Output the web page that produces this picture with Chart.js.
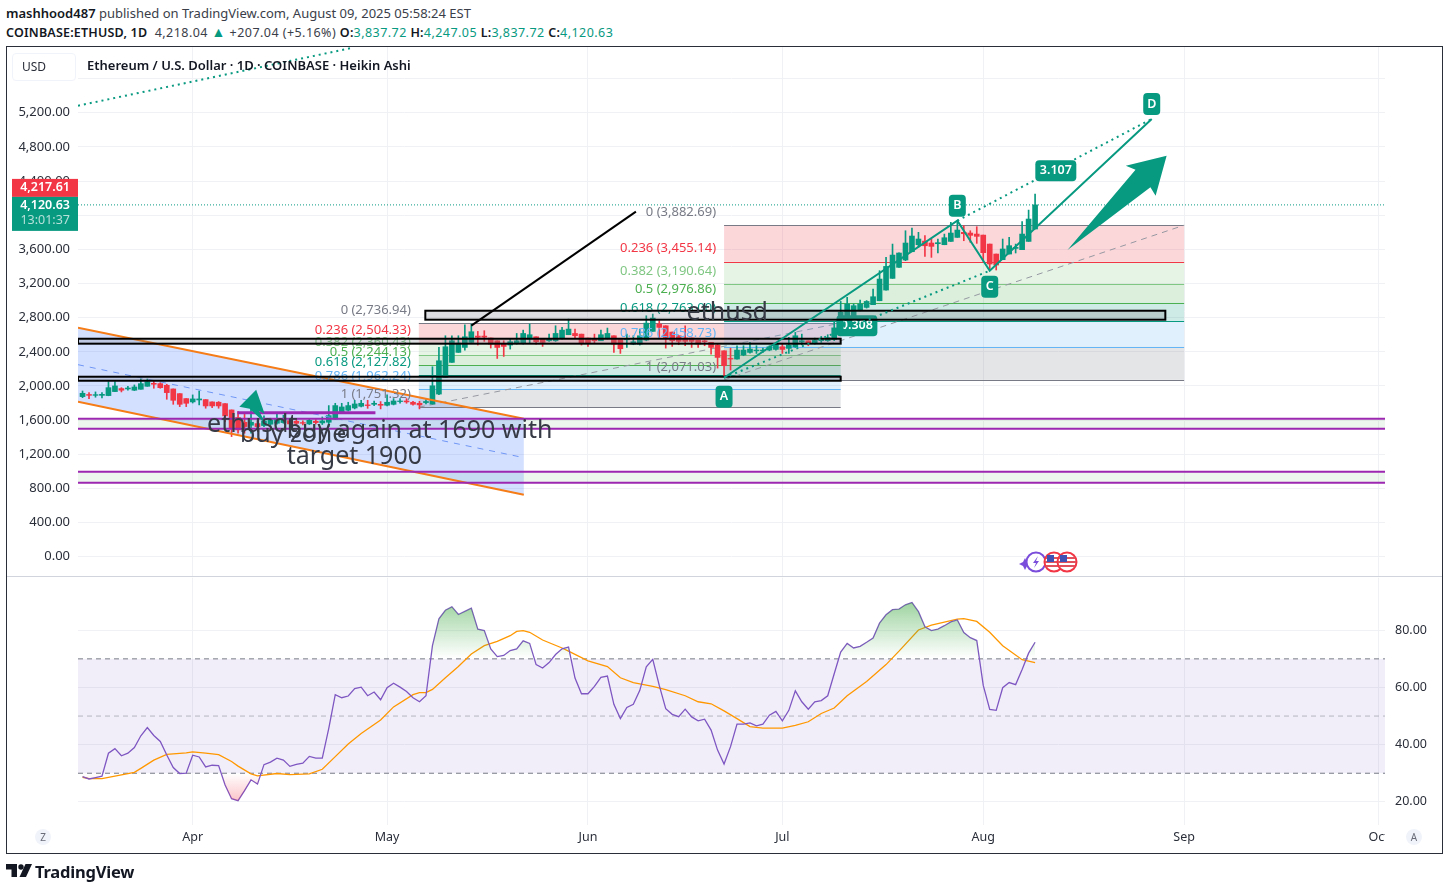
<!DOCTYPE html>
<html>
<head>
<meta charset="utf-8">
<script src="https://cdn.jsdelivr.net/npm/chart.js@4"></script>
<style>
  html, body { margin: 0; padding: 0; background: #fff; }
  body { width: 1448px; height: 891px; position: relative; overflow: hidden; font-family: "Noto Sans", sans-serif; color: #131722; }
  canvas { position: absolute; left: 0; }
  .abs { position: absolute; white-space: nowrap; }
  b { font-weight: 600; color: #131722; letter-spacing: .2px; }
  .up { color: #089981; }
</style>
</head>
<body>
<div class="abs" style="left:6px;top:4px;font-size:13px;color:#3a3e49"><b style="letter-spacing:0">mashhood487</b> published on TradingView.com, August 09, 2025 05:58:24 EST</div>
<div class="abs" style="left:6px;top:22px;font-size:12.5px;color:#3a3e49;letter-spacing:.45px"><b>COINBASE:ETHUSD, 1D</b>&nbsp; 4,218.04 <span class="up" style="font-size:14px">▲</span> +207.04 (+5.16%) <b>O:</b><span class="up">3,837.72</span>&nbsp;<b>H:</b><span class="up">4,247.05</span>&nbsp;<b>L:</b><span class="up">3,837.72</span>&nbsp;<b>C:</b><span class="up">4,120.63</span></div>
<div class="abs" style="left:6px;top:46px;width:1435px;height:806px;border:1px solid #2a2e39"></div>
<canvas id="price" width="1448" height="529" style="top:47px"></canvas>
<canvas id="rsi" width="1448" height="275" style="top:577px"></canvas>
<div class="abs" style="left:7px;top:576px;width:1435px;height:1px;background:#d1d4dc"></div>
<div class="abs" style="left:12px;top:53px;width:62px;height:26px;border:1px solid #f0f3fa;border-radius:4px;background:#fff;box-shadow:0 3px 0 #fff;font-size:12px;line-height:26px;text-indent:9px;color:#2a2e39">USD</div>
<div class="abs" style="left:87px;top:56px;font-size:13px;font-weight:600;color:#131722">Ethereum / U.S. Dollar · 1D · COINBASE · Heikin Ashi</div>
<svg class="abs" style="left:1018px;top:549px" width="66" height="26" viewBox="0 0 66 26">
  <path d="M7 9l2 4 4 2-4 2-2 4-2-4-4-2 4-2z" fill="#7b4ddb"/>
  <circle cx="18" cy="13" r="9.5" fill="#fff" stroke="#7b4ddb" stroke-width="2"/>
  <path d="M20 7l-5 7h3l-2 5 5-7h-3z" fill="#7b4ddb"/>
  <circle cx="36" cy="13" r="9.5" fill="#fff" stroke="#f23645" stroke-width="2"/>
  <path d="M28 9h16M27 13h18M28 17h16" stroke="#e0525e" stroke-width="2"/>
  <rect x="29" y="6" width="7" height="7" fill="#3f51b5"/>
  <circle cx="49" cy="13" r="9.5" fill="#fff" stroke="#f23645" stroke-width="2"/>
  <path d="M41 9h16M40 13h18M41 17h16" stroke="#e0525e" stroke-width="2"/>
  <rect x="42" y="6" width="7" height="7" fill="#3f51b5"/>
</svg>
<div class="abs" style="left:35px;top:829px;width:16px;height:16px;border-radius:8px;background:#f0f3fa;font-size:10px;line-height:16px;text-align:center;color:#6a6d78">Z</div>
<div class="abs" style="left:1406px;top:829px;width:16px;height:16px;border-radius:8px;background:#f0f3fa;font-size:10px;line-height:16px;text-align:center;color:#6a6d78">A</div>
<svg class="abs" style="left:6px;top:864px" width="26" height="14" viewBox="0 0 26 14">
  <path d="M0 0h11v13H5.500V5.500H0z" fill="#131722"/>
  <circle cx="15" cy="3" r="2.700" fill="#131722"/>
  <path d="M19.500 0H26l-6 13h-6.500z" fill="#131722"/>
</svg>
<div class="abs" style="left:35px;top:860px;font-size:16.5px;font-weight:700;color:#131722;letter-spacing:-0.2px">TradingView</div>

<script>
// days are counted from 1 April 2025, candles run from 15 March to 9 August
const firstDay = -17;
const dayMin = -17.7;
const dayMax = 184;
const monthDays = [0, 30, 61, 91, 122, 153, 183];
const monthNames = ['Apr', 'May', 'Jun', 'Jul', 'Aug', 'Sep', 'Oct'];
const priceTicks = [5600, 5200, 4800, 4400, 4000, 3600, 3200, 2800, 2400, 2000, 1600, 1200, 800, 400, 0];
const rsiTicks = [80, 60, 40, 20];

const candleOpen = [1875,1900,1890,1890,1887,1934,1969,1965,1950,1961,1996,2031,2027,2008,1965,1910,1852,
  1813,1836,1840,1813,1809,1793,1719,1630,1575,1540,
  1559,1536,1552,1563,1571,1594,1586,1571,1555,1586,
  1567,1575,1610,1684,1715,1742,1762,1778,1785,1785,
  1774,1785,1817,1824,1809,1797,1805,
  1788,1905,2100,2276,2393,2451,2510,
  2584,2584,2561,2529,2490,2479,2498,2502,2549,2576,2549,2529,2529,2561,2600,2615,
  2607,2561,2549,2529,2561,2588,2549,2541,2490,2490,
  2537,2639,2725,2705,2631,2588,2561,2561,2537,2529,
  2510,2479,2412,2322,2315,2362,2393,2412,2412,2420,
  2428,2459,2440,2459,2514,2529,2498,2530,2530,2545,
  2647,2764,2803,2889,2920,2952,2998,3123,3260,3389,
  3475,3572,3654,3697,3674,3666,3654,3693,3740,3799,
  3791,3779,3767,3662,3545,3479,3545,3611,3596,3693,3838];
const candleClose = [1914,1890,1898,1902,1980,2000,1950,1976,1988,2027,2050,2020,1980,1922,1832,1785,1797,
  1848,1848,1766,1766,1766,1649,1497,1485,1524,1575,
  1524,1590,1602,1610,1610,1555,1563,1563,1598,1571,
  1590,1653,1770,1754,1770,1789,1797,1770,1797,1774,
  1809,1824,1824,1813,1785,1778,1818,
  2002,2295,2459,2529,2502,2576,2635,
  2570,2572,2490,2451,2463,2518,2529,2615,2600,2518,2510,2549,2615,2654,2666,2588,
  2502,2502,2529,2600,2615,2490,2436,2549,2518,2588,
  2736,2795,2686,2568,2529,2522,2522,2522,2490,2518,
  2451,2334,2237,2315,2420,2420,2432,2420,2420,2459,
  2490,2428,2479,2588,2530,2502,2537,2558,2565,2680,
  2862,2960,2940,2960,2990,3045,3252,3400,3533,3557,
  3674,3756,3721,3642,3635,3678,3736,3791,3826,3783,
  3764,3752,3561,3428,3416,3604,3643,3623,3779,3955,4121];
const candleHigh = [1941,1922,1930,1922,2050,2050,1980,1996,2012,2082,2082,2058,2039,2020,1965,1910,1852,
  1895,1941,1840,1813,1817,1793,1719,1700,1680,1735,
  1590,1649,1622,1680,1657,1618,1618,1590,1610,1606,
  1637,1770,1797,1797,1809,1832,1832,1832,1824,1817,
  1895,1852,1852,1852,1820,1820,1840,
  2225,2451,2588,2588,2588,2717,2725,
  2639,2647,2561,2529,2529,2549,2615,2654,2725,2576,2549,2607,2705,2686,2783,2666,
  2607,2561,2607,2654,2678,2588,2549,2607,2588,2666,
  2822,2842,2764,2705,2631,2588,2705,2561,2537,2537,
  2510,2490,2412,2443,2471,2471,2510,2471,2443,2471,
  2510,2490,2568,2627,2607,2529,2560,2580,2600,2745,
  2990,3037,2960,3006,3000,3135,3350,3506,3662,3560,
  3818,3850,3799,3760,3720,3720,3779,3916,3935,3877,
  3818,3865,3767,3662,3545,3721,3740,3662,3924,4060,4247];
const candleLow = [1863,1852,1868,1860,1885,1934,1930,1950,1946,1961,1996,1973,1973,1844,1785,1758,1758,
  1800,1778,1739,1746,1739,1583,1407,1446,1446,1446,
  1505,1524,1540,1552,1563,1540,1532,1545,1548,1555,
  1548,1524,1610,1676,1707,1731,1754,1738,1770,1731,
  1766,1778,1797,1797,1774,1731,1790,
  1788,1897,2100,2276,2393,2420,2510,
  2479,2522,2444,2322,2346,2432,2490,2490,2498,2490,2463,2522,2522,2549,2600,2561,
  2479,2463,2498,2529,2549,2393,2381,2451,2483,2479,
  2529,2639,2568,2443,2463,2483,2471,2451,2451,2471,
  2373,2209,2108,2186,2315,2354,2385,2381,2393,2412,
  2420,2381,2381,2451,2483,2471,2490,2510,2522,2530,
  2647,2764,2803,2880,2912,2952,2998,3123,3260,3389,
  3467,3572,3623,3518,3506,3557,3654,3693,3740,3701,
  3682,3670,3459,3361,3358,3479,3545,3557,3596,3693,3838];

const rsiValues = [28.8,28.0,28.5,29.0,37.0,38.6,36.1,37.0,39.0,43.1,46.0,43.2,41.1,36.4,32.0,29.9,30.0,
  36.3,35.7,32.2,32.8,32.7,25.9,21.1,20.4,23.9,27.7,
  26.2,33.0,33.9,35.3,34.6,32.4,33.1,33.5,35.9,35.3,
  35.3,45.7,57.5,56.4,57.0,59.6,60.1,57.1,58.4,55.7,
  59.9,61.5,60.1,58.6,56.4,55.0,57.1,74.6,84.0,87.0,
  88.2,85.5,86.6,87.7,80.4,79.9,73.5,70.8,71.2,72.9,
  73.5,76.3,75.4,68.0,66.8,68.7,71.5,73.5,74.1,63.3,
  57.8,57.8,60.4,63.5,64.0,54.1,49.1,53.0,54.1,59.0,
  67.2,69.8,60.7,52.6,50.6,49.8,52.4,49.7,48.3,48.9,
  45.1,38.1,33.2,39.3,47.2,47.2,47.6,46.6,47.2,50.3,
  51.6,48.3,52.0,58.8,55.0,52.4,55.0,55.4,57.1,64.8,
  72.4,75.4,73.8,74.4,75.8,77.3,82.5,85.4,87.2,87.4,
  88.9,89.7,86.5,81.2,79.9,80.4,81.6,82.9,83.6,79.2,
  77.4,76.4,60.7,52.3,52.0,59.9,61.7,61.0,66.3,72.0,75.8];
const rsiMaDays = [-17,-16,-14,-12,-9,-8,-6,-4,-1,0,2,4,6,7,9,10,13,15,18,20,22,24,26,29,31,34,35,36,37,39,41,43,45,47,49,50,51,52,54,57,58,61,64,66,68,71,73,76,78,80,82,84,86,88,91,93,95,97,99,101,104,107,109,112,114,118,119,121,123,125,128,130];
const rsiMaValues = [28.6,28.1,28.1,29.0,30.3,31.7,34.6,36.6,37.1,37.5,37.0,36.5,34.1,32.5,29.8,29.1,29.9,29.5,29.8,31.4,35.8,40.2,43.9,48.6,53.2,57.5,58.2,58.2,59.3,63.4,67.3,71.7,74.6,76.1,78.1,79.6,79.9,79.3,76.6,73.8,72.7,69.3,67.3,63.4,61.7,60.4,59.2,57.1,55.0,54.3,51.8,49.1,46.3,45.8,45.8,46.7,48.0,50.9,52.8,57.1,62.1,68.0,72.7,80.1,81.8,83.9,84.1,83.1,79.3,74.6,69.7,68.7];

const fibLevels = ['0', '0.236', '0.382', '0.5', '0.618', '0.786', '1'];
const fibColors = ['#787b86', '#f23645', '#81c784', '#4caf50', '#089981', '#64b5f6', '#787b86'];
const fibFills = ['rgba(242,54,69,.2)', 'rgba(129,199,132,.2)', 'rgba(76,175,80,.2)', 'rgba(8,153,129,.2)', 'rgba(100,181,246,.2)', 'rgba(120,123,134,.2)'];
const fibLowerDays = [34.9, 100];
const fibLowerPrices = [2736.94, 2504.33, 2360.43, 2244.13, 2127.82, 1962.24, 1751.32];
const fibUpperDays = [82, 153];
const fibUpperPrices = [3882.69, 3455.14, 3190.64, 2976.86, 2763.00, 2458.73, 2071.03];

// the ABCD pattern and the other trend lines, as [day, price]
const pointA = [82, 2096];
const pointB = [118, 3935];
const pointC = [123, 3350];
const pointD = [148, 5127];
const longDotted = [[dayMin, 5282], [24.7, 5962]];
const blackLine = [[43, 2706], [68.4, 4041]];
const channelDays = [dayMin, 51.1];
const channelTop = [2682, 1616];
const channelMid = [2249, 1160];
const channelBottom = [1815, 726];
const supportBoxes = [[dayMin, 100, 2553, 2495], [dayMin, 100, 2108, 2061], [35.9, 150.1, 2881, 2776]];
const purpleZones = [[1616, 1499], [996, 867]];
const purpleShort = [[6.9, 1687], [28.2, 1687]];
const bigArrow = [[150.3, 4697], [144, 4580], [145.5, 4533], [135, 3592], [147.8, 4326], [148.6, 4228]];
const smallArrow = [[9.8, 1956], [11.1, 1675], [10.2, 1710], [11.4, 1546], [8.8, 1733], [7.2, 1757]];
const lastPrice = 4120.63;
const bidPrice = 4217.61;
const countdown = '13:01:37';

const green = '#089981';
const red = '#f23645';
const font = '"Noto Sans", sans-serif';
const grid = '#f0f1f4';

function money(v) {
    return v.toLocaleString('en-US', {minimumFractionDigits: 2, maximumFractionDigits: 2});
}

function candleColors() {
    return candleOpen.map((o, i) => candleClose[i] >= o ? green : red);
}

const candleDays = candleOpen.map((o, i) => firstDay + i);

function monthTicks(scale) {
    scale.ticks = monthDays.map(d => ({value: d}));
}

// tick padding would otherwise be added to the plot margins
function noMargins(scale) {
    scale.paddingTop = 0;
    scale.paddingBottom = 0;
    scale.paddingLeft = 0;
    scale.paddingRight = 0;
}

const drawings = {
    id: 'drawings',
    beforeDatasetsDraw(chart) {
        const {ctx, chartArea: a, scales: {x, y}} = chart;
        const px = d => x.getPixelForValue(d);
        const py = v => y.getPixelForValue(v);
        ctx.save();
        ctx.beginPath();
        ctx.rect(a.left, a.top, a.width, a.height);
        ctx.clip();

        // buy zones
        purpleZones.forEach(z => {
            ctx.fillStyle = 'rgba(76,175,80,.1)';
            ctx.fillRect(a.left, py(z[0]), a.width, py(z[1]) - py(z[0]));
        });

        // channel
        ctx.fillStyle = 'rgba(41,98,255,.2)';
        ctx.beginPath();
        ctx.moveTo(px(channelDays[0]), py(channelTop[0]));
        ctx.lineTo(px(channelDays[1]), py(channelTop[1]));
        ctx.lineTo(px(channelDays[1]), py(channelBottom[1]));
        ctx.lineTo(px(channelDays[0]), py(channelBottom[0]));
        ctx.closePath();
        ctx.fill();

        // fibs
        [[fibLowerDays, fibLowerPrices], [fibUpperDays, fibUpperPrices]].forEach(([days, prices]) => {
            const l = px(days[0]), r = px(days[1]);
            fibFills.forEach((c, i) => {
                ctx.fillStyle = c;
                ctx.fillRect(l, py(prices[i]), r - l, py(prices[i + 1]) - py(prices[i]));
            });
            prices.forEach((p, i) => {
                ctx.strokeStyle = fibColors[i];
                ctx.lineWidth = 1;
                ctx.beginPath();
                ctx.moveTo(l, Math.round(py(p)) + .5);
                ctx.lineTo(r, Math.round(py(p)) + .5);
                ctx.stroke();
            });
            ctx.setLineDash([6, 5]);
            ctx.strokeStyle = '#9598a1';
            ctx.beginPath();
            ctx.moveTo(l, py(prices[6]));
            ctx.lineTo(r, py(prices[0]));
            ctx.stroke();
            ctx.setLineDash([]);
        });

        pill(ctx, '0.308', px(102.5), py(2706), 41);
        ctx.restore();
    },
    afterDatasetsDraw(chart) {
        const {ctx, chartArea: a, scales: {x, y}} = chart;
        const px = d => x.getPixelForValue(d);
        const py = v => y.getPixelForValue(v);
        const line = (pts, color, width, dash) => {
            ctx.strokeStyle = color;
            ctx.lineWidth = width;
            ctx.setLineDash(dash || []);
            ctx.beginPath();
            pts.forEach((p, i) => i ? ctx.lineTo(px(p[0]), py(p[1])) : ctx.moveTo(px(p[0]), py(p[1])));
            ctx.stroke();
            ctx.setLineDash([]);
        };
        const polygon = pts => {
            ctx.fillStyle = green;
            ctx.beginPath();
            pts.forEach((p, i) => i ? ctx.lineTo(px(p[0]), py(p[1])) : ctx.moveTo(px(p[0]), py(p[1])));
            ctx.closePath();
            ctx.fill();
        };

        ctx.save();
        ctx.beginPath();
        ctx.rect(a.left, a.top, a.width, a.height);
        ctx.clip();

        // last price
        line([[dayMin, lastPrice], [dayMax, lastPrice]], green, 1, [1, 2]);

        // channel lines
        line([[channelDays[0], channelTop[0]], [channelDays[1], channelTop[1]]], '#f57c17', 2);
        line([[channelDays[0], channelBottom[0]], [channelDays[1], channelBottom[1]]], '#f57c17', 2);
        line([[channelDays[0], channelMid[0]], [channelDays[1], channelMid[1]]], '#6f96f5', 1, [6, 6]);

        // fib labels
        ctx.font = '13px ' + font;
        ctx.textAlign = 'right';
        ctx.textBaseline = 'middle';
        [[fibLowerDays, fibLowerPrices], [fibUpperDays, fibUpperPrices]].forEach(([days, prices]) => {
            prices.forEach((p, i) => {
                ctx.fillStyle = fibColors[i];
                ctx.fillText(fibLevels[i] + ' (' + money(p) + ')', px(days[0]) - 8, py(p) - 13);
            });
        });

        // support boxes
        supportBoxes.forEach(b => {
            const bx = px(b[0]), by = py(b[2]), bw = px(b[1]) - bx, bh = py(b[3]) - by;
            ctx.fillStyle = 'rgba(120,123,134,.25)';
            ctx.fillRect(bx, by, bw, bh);
            ctx.strokeStyle = '#000';
            ctx.lineWidth = 2;
            ctx.strokeRect(bx, by, bw, bh);
        });

        // purple levels
        purpleZones.forEach(z => {
            line([[dayMin, z[0]], [dayMax, z[0]]], '#9c27b0', 2);
            line([[dayMin, z[1]], [dayMax, z[1]]], '#9c27b0', 2);
        });
        line(purpleShort, '#9c27b0', 3);

        polygon(smallArrow);
        polygon(bigArrow);

        // trend lines
        line(longDotted, green, 2, [2, 4]);
        line(blackLine, '#000', 2);
        line([pointA, pointB, pointC, pointD], green, 2);
        line([pointA, pointC], green, 2, [2, 4]);
        line([pointB, pointD], green, 2, [2, 4]);

        pill(ctx, 'A', px(pointA[0]), py(pointA[1]) + 19, 17);
        pill(ctx, 'B', px(pointB[0]), py(pointB[1]) - 15, 17);
        pill(ctx, 'C', px(pointC[0]), py(pointC[1]) + 16, 17);
        pill(ctx, 'D', px(pointD[0]), py(pointD[1]) - 15, 17);
        pill(ctx, '3.107', px(133.2), py(4521), 41);

        // notes on the chart
        ctx.fillStyle = '#363a45';
        ctx.font = '25px ' + font;
        ctx.textAlign = 'center';
        ctx.fillText('ethusd', px(82.5), py(2860));
        ctx.fillText('ethusdt', px(9.2), py(1548));
        ctx.fillText('buy zone', px(15.5), py(1430));
        ctx.textAlign = 'left';
        ctx.fillText('buy again at 1690 with', px(14.5), py(1477));
        ctx.fillText('target 1900', px(14.5), py(1173));
        ctx.restore();

        // price tags on the axis
        const tagY = py(lastPrice) + 1;
        ctx.fillStyle = red;
        ctx.fillRect(12, tagY - 27, 66, 18);
        ctx.fillStyle = green;
        ctx.fillRect(12, tagY - 9, 66, 34);
        ctx.font = '600 12.5px ' + font;
        ctx.textAlign = 'right';
        ctx.textBaseline = 'middle';
        ctx.fillStyle = '#fff';
        ctx.fillText(money(bidPrice), 70, tagY - 18);
        ctx.fillText(money(lastPrice), 70, tagY);
        ctx.fillStyle = 'rgba(255,255,255,.7)';
        ctx.font = '12.5px ' + font;
        ctx.fillText(countdown, 70, tagY + 15);
    }
};

function pill(ctx, text, cx, cy, w) {
    const h = w > 20 ? 21 : 22;
    ctx.fillStyle = green;
    ctx.beginPath();
    ctx.roundRect(cx - w / 2, cy - h / 2, w, h, 4);
    ctx.fill();
    ctx.fillStyle = '#fff';
    ctx.font = '600 12.5px ' + font;
    ctx.textAlign = 'center';
    ctx.textBaseline = 'middle';
    ctx.fillText(text, cx, cy);
}

const rsiBands = {
    id: 'rsiBands',
    beforeDatasetsDraw(chart) {
        const {ctx, chartArea: a, scales: {y}} = chart;
        const y70 = y.getPixelForValue(70), y30 = y.getPixelForValue(30), y50 = y.getPixelForValue(50);
        ctx.save();
        ctx.fillStyle = 'rgba(126,87,194,.1)';
        ctx.fillRect(a.left, y70, a.width, y30 - y70);
        ctx.setLineDash([5, 4]);
        ctx.lineWidth = 1;
        [[y70, '#787b86'], [y30, '#787b86'], [y50, '#b2b5be']].forEach(([py, c]) => {
            ctx.strokeStyle = c;
            ctx.beginPath();
            ctx.moveTo(a.left, py);
            ctx.lineTo(a.right, py);
            ctx.stroke();
        });
        ctx.restore();
    },
    afterDraw(chart) {
        // the last month label runs under the right hand axis
        const {ctx, chartArea: a} = chart;
        ctx.fillStyle = '#fff';
        ctx.fillRect(a.right, a.bottom + 1, 20, 24);
    }
};

new Chart(document.getElementById('price'), {
    type: 'bar',
    data: {
        datasets: [
            {
                data: candleDays.map((d, i) => ({x: d, y: [candleLow[i], candleHigh[i]]})),
                backgroundColor: candleColors(),
                barThickness: 1,
                grouped: false,
                order: 2
            },
            {
                data: candleDays.map((d, i) => ({x: d, y: [candleOpen[i], candleClose[i]]})),
                backgroundColor: candleColors(),
                barThickness: 5,
                grouped: false,
                order: 1
            }
        ]
    },
    plugins: [drawings],
    options: {
        responsive: false,
        animation: false,
        layout: {padding: {left: 6, right: 63, top: 0, bottom: 0}},
        plugins: {legend: {display: false}, tooltip: {enabled: false}},
        scales: {
            x: {
                type: 'linear',
                offset: false,
                min: dayMin,
                max: dayMax,
                afterBuildTicks: monthTicks,
                afterFit(scale) { scale.height = 0; noMargins(scale); },
                ticks: {display: false},
                border: {display: false},
                grid: {color: grid, offset: false, drawTicks: false}
            },
            y: {
                position: 'left',
                min: -226,
                max: 5970,
                afterBuildTicks(scale) { scale.ticks = priceTicks.map(v => ({value: v})); },
                afterFit(scale) { scale.width = 72; noMargins(scale); },
                ticks: {
                    padding: 8,
                    color: '#2a2e39',
                    font: {family: font, size: 13},
                    callback: v => money(v)
                },
                border: {display: false},
                grid: {color: grid, drawTicks: false}
            }
        }
    }
});

const rsiPoints = candleDays.map((d, i) => ({x: d, y: rsiValues[i]}));
const rsiChart = new Chart(document.getElementById('rsi'), {
    type: 'line',
    data: {
        datasets: [
            {data: rsiPoints, borderWidth: 0, pointRadius: 0, fill: false},
            {data: rsiPoints, borderWidth: 0, pointRadius: 0, fill: false},
            {data: rsiPoints, borderColor: '#7e57c2', borderWidth: 1.3, pointRadius: 0, tension: 0},
            {data: rsiMaDays.map((d, i) => ({x: d, y: rsiMaValues[i]})), borderColor: '#ff9800', borderWidth: 1.3, pointRadius: 0, tension: 0}
        ]
    },
    plugins: [rsiBands],
    options: {
        responsive: false,
        animation: false,
        layout: {padding: {left: 78, right: 6, top: 0, bottom: 0}},
        plugins: {legend: {display: false}, tooltip: {enabled: false}},
        scales: {
            x: {
                type: 'linear',
                min: dayMin,
                max: dayMax,
                afterBuildTicks: monthTicks,
                afterFit(scale) { scale.height = 27; noMargins(scale); },
                ticks: {
                    autoSkip: false,
                    maxRotation: 0,
                    padding: 5,
                    color: '#2a2e39',
                    font: {family: font, size: 12.5},
                    callback: v => monthNames[monthDays.indexOf(v)]
                },
                border: {display: false},
                grid: {color: grid, drawTicks: false}
            },
            y: {
                position: 'right',
                min: 11.9,
                max: 98.4,
                afterBuildTicks(scale) { scale.ticks = rsiTicks.map(v => ({value: v})); },
                afterFit(scale) { scale.width = 57; noMargins(scale); },
                ticks: {
                    padding: 10,
                    color: '#2a2e39',
                    font: {family: font, size: 12.5},
                    callback: v => v.toFixed(2)
                },
                border: {display: false},
                grid: {color: grid, drawTicks: false}
            }
        }
    }
});

// gradients for the overbought and oversold parts of the RSI
const rsiY = rsiChart.scales.y;
const rsiCtx = rsiChart.ctx;
const overbought = rsiCtx.createLinearGradient(0, rsiY.getPixelForValue(90), 0, rsiY.getPixelForValue(70));
overbought.addColorStop(0, 'rgba(76,175,80,.55)');
overbought.addColorStop(1, 'rgba(76,175,80,0)');
const oversold = rsiCtx.createLinearGradient(0, rsiY.getPixelForValue(30), 0, rsiY.getPixelForValue(20));
oversold.addColorStop(0, 'rgba(242,54,69,0)');
oversold.addColorStop(1, 'rgba(242,54,69,.3)');
rsiChart.data.datasets[0].fill = {target: {value: 70}, above: overbought, below: 'transparent'};
rsiChart.data.datasets[1].fill = {target: {value: 30}, above: 'transparent', below: oversold};
rsiChart.update('none');
</script>
</body>
</html>
